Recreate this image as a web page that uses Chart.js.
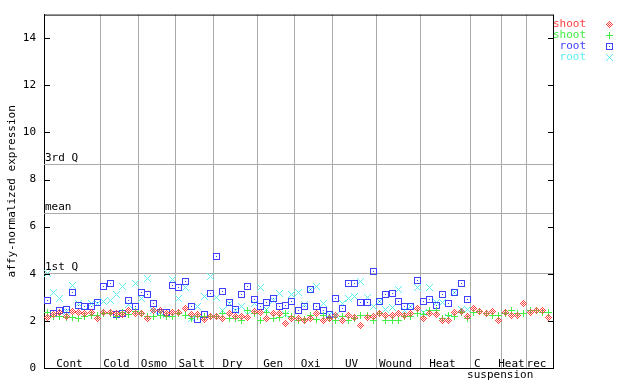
<!DOCTYPE html>
<html>
<head>
<meta charset="utf-8">
<script src="https://cdn.jsdelivr.net/npm/chart.js@4"></script>
<style>
html, body { margin: 0; padding: 0; background: #fff; }
#wrap { width: 640px; height: 384px; }
</style>
</head>
<body>
<div id="wrap"><canvas id="chart-1"></canvas></div>
<script>
// groups along the x axis
var groupLabels = ["Cont", "Cold", "Osmo", "Salt", "Dry", "Gen", "Oxi", "UV", "Wound", "Heat", "C\nsuspension", "Heat", "rec"];
var groupSizes = [9, 6, 6, 6, 7, 6, 6, 7, 7, 8, 5, 4, 4];

// series values, one per sample
var shootRed = [2.15,2.25,2.35,2.2,2.39,2.35,2.3,2.35,2.12, 2.35,2.37,2.3,2.25,2.42,2.3, 2.3,2.08,2.46,2.42,2.3,2.35,
    2.35,2.53,2.25,2.25,2.04,2.2, 2.2,2.08,2.3,2.2,2.2,2.15,2.4, 2.35,2.1,2.3,2.3,1.87,2.1,
    2.1,2.0,2.08,2.3,2.0,2.1, 2.24,2.0,2.24,2.15,1.82,2.15,2.2, 2.3,2.24,2.24,2.3,2.24,2.3,2.53,
    2.08,2.3,2.26,2.03,2.0,2.35,2.4,2.2, 2.53,2.4,2.3,2.4,2.03, 2.35,2.24,2.24,2.72, 2.35,2.46,2.46,2.13];
var shootGreen = [2.35,2.2,2.2,2.13,2.13,2.1,2.2,2.24,2.24, 2.3,2.3,2.2,2.35,2.27,2.4, 2.3,2.2,2.2,2.24,2.2,2.2,
    2.3,2.24,2.1,2.2,2.2,2.2, 2.2,2.3,2.1,2.1,2.01,2.42,2.3, 2.0,2.35,2.1,2.15,2.3,2.2,
    2.0,2.05,2.24,2.05,2.24,2.1, 2.0,2.2,2.03,2.1,2.24,2.24,2.03, 2.3,2.03,2.03,2.0,2.2,2.2,2.3,
    2.27,2.46,2.42,2.1,2.24,2.2,2.35,2.1, 2.35,2.4,2.3,2.24,2.24, 2.3,2.42,2.3,2.3, 2.42,2.42,2.35,2.35];
var rootBlue = [2.85,2.3,2.43,2.5,3.21,2.67,2.59,2.59,2.76, 3.48,3.59,2.25,2.3,2.88,2.59, 3.21,3.14,2.72,2.35,2.35,3.52,
    3.42,3.68,2.59,2.04,2.29,3.17, 4.75,3.25,2.79,2.49,3.14,3.48,2.9, 2.63,2.77,2.93,2.59,2.67,2.84,
    2.46,2.59,3.34,2.59,2.46,2.29, 2.96,2.53,3.59,3.59,2.79,2.79,4.09, 2.84,3.14,3.17,2.84,2.63,2.59,3.73,
    2.84,2.9,2.67,3.12,2.72,3.2,3.59,2.9];
var rootCyan = [4.0,3.2,2.93,2.4,3.52,2.75,2.45,2.75,2.72, 2.84,2.88,3.1,3.48,2.7,3.59, 2.95,3.8,2.45,2.35,2.25,3.77,
    2.96,3.42,2.08,2.63,3.03,3.87, 3.0,2.45,2.75,2.45,2.6,2.25,2.75, 3.42,2.5,2.88,3.17,2.25,3.14,
    3.2,2.7,3.34,3.48,2.75,2.25, 2.24,2.75,2.96,3.05,3.66,3.0,2.63, 2.84,2.5,2.55,3.34,2.45,2.59,3.4,
    2.35,3.42,2.8,2.8,2.15,3.2,2.5,2.5];

var yTicks = [0, 2, 4, 6, 8, 10, 12, 14];
var refValues = [8.67, 6.6, 4.05];
var refLabels = ["3rd Q", "mean", "1st Q"];
var seriesNames = ["shoot", "shoot", "root", "root"];
var seriesColors = ["#ff4040", "#44ee44", "#4040ff", "#5ef0f0"];
var seriesMarkers = ["diamond", "plus", "square", "x"];

var FONT = "DejaVu Sans Mono";

// small pixel markers
function marker(kind, color) {
    var c = document.createElement("canvas");
    c.width = 7; c.height = 7;
    var g = c.getContext("2d");
    g.fillStyle = color;
    for (var i = 0; i < 7; i++) {
        for (var j = 0; j < 7; j++) {
            var dx = i - 3, dy = j - 3, on = false;
            if (kind === "diamond") on = Math.abs(dx) + Math.abs(dy) <= 3 && (dx + dy) % 2 !== 0;
            if (kind === "plus") on = dx === 0 || dy === 0;
            if (kind === "square") on = Math.abs(dx) === 3 || Math.abs(dy) === 3 || (dx === 0 && dy === 0);
            if (kind === "x") on = Math.abs(dx) === Math.abs(dy);
            if (on) g.fillRect(i, j, 1, 1);
        }
    }
    return c;
}
var markerImgs = seriesMarkers.map(function (k, i) { return marker(k, seriesColors[i]); });

// group boundaries and centers in sample units
var boundaries = [], centers = [], acc = 0;
groupSizes.forEach(function (n) {
    centers.push(acc + (n - 1) / 2);
    acc += n;
    boundaries.push(acc - 0.5);
});
boundaries.pop();

function points(arr) {
    return arr.map(function (v, i) { return { x: i, y: v }; });
}

var allSeries = [shootRed, shootGreen, rootBlue, rootCyan];
var datasets = allSeries.map(function (arr, i) {
    return {
        label: seriesNames[i],
        data: points(arr),
        showLine: false,
        pointStyle: markerImgs[i],
        pointRadius: 3,
        borderColor: seriesColors[i],
        backgroundColor: seriesColors[i]
    };
});

var extras = {
    id: "extras",
    beforeDatasetsDraw: function (chart) {
        var ctx = chart.ctx, a = chart.chartArea;
        var xs = chart.scales.x, ys = chart.scales.y;
        ctx.save();
        // reference lines
        ctx.strokeStyle = "#aaaaaa";
        ctx.lineWidth = 1;
        ctx.font = "11px " + FONT;
        ctx.fillStyle = "#000";
        ctx.textBaseline = "bottom";
        ctx.textAlign = "left";
        refValues.forEach(function (v, i) {
            var y = Math.round(ys.getPixelForValue(v)) + 0.5;
            ctx.beginPath();
            ctx.moveTo(a.left, y);
            ctx.lineTo(a.right, y);
            ctx.stroke();
            ctx.fillText(refLabels[i], a.left + 1, y - 1);
        });
        // group labels
        ctx.textAlign = "center";
        ctx.textBaseline = "middle";
        groupLabels.forEach(function (lab, i) {
            var x = xs.getPixelForValue(centers[i]) - 3;
            var lines = lab.split("\n");
            if (lines.length > 1) {
                ctx.fillText(lines[0], x - 6, a.bottom - 4);
                ctx.fillText(lines[1], x + 17, a.bottom + 7);
            } else {
                ctx.fillText(lab, x, a.bottom - 4);
            }
        });
        ctx.restore();
        // crisp pixel markers
        ctx.imageSmoothingEnabled = false;
    },
    afterDraw: function (chart) {
        var ctx = chart.ctx, a = chart.chartArea, ys = chart.scales.y;
        ctx.save();
        ctx.strokeStyle = "#000";
        ctx.lineWidth = 1;
        ctx.beginPath();
        ctx.moveTo(a.left, a.top + 0.5);
        ctx.lineTo(a.right + 0.5, a.top + 0.5);
        ctx.moveTo(a.right + 0.5, a.top);
        ctx.lineTo(a.right + 0.5, a.bottom);
        yTicks.forEach(function (v) {
            var y = Math.round(ys.getPixelForValue(v)) + 0.5;
            ctx.moveTo(a.left, y);
            ctx.lineTo(a.left + 6, y);
            ctx.moveTo(a.right - 5, y);
            ctx.lineTo(a.right + 0.5, y);
        });
        ctx.stroke();
        // legend
        ctx.font = "11px " + FONT;
        ctx.textAlign = "right";
        ctx.textBaseline = "middle";
        ctx.imageSmoothingEnabled = false;
        seriesNames.forEach(function (name, i) {
            var y = 24 + i * 11;
            ctx.fillStyle = seriesColors[i];
            ctx.fillText(name, 586, y);
            ctx.drawImage(markerImgs[i], 606, y - 3);
        });
        ctx.restore();
    }
};

var ctx_1 = document.getElementById("chart-1");
var myChart = new Chart(ctx_1, {
    type: "line",
    data: { datasets: datasets },
    options: {
        responsive: true,
        maintainAspectRatio: false,
        animation: false,
        layout: {
            padding: { left: 0, right: 87, top: 13, bottom: 16 }
        },
        plugins: {
            legend: { display: false },
            tooltip: { enabled: false }
        },
        scales: {
            x: {
                type: "linear",
                min: -0.53,
                max: 80.65,
                afterBuildTicks: function (s) {
                    s.ticks = boundaries.map(function (v) { return { value: v }; });
                },
                afterFit: function (s) { s.height = 0; },
                ticks: { display: false },
                grid: { color: "#aaaaaa", drawTicks: false },
                border: { display: true, color: "#000" }
            },
            y: {
                min: 0,
                max: 15,
                afterBuildTicks: function (s) {
                    s.ticks = yTicks.map(function (v) { return { value: v }; });
                },
                afterFit: function (s) { s.width = 44; },
                ticks: {
                    color: "#000",
                    padding: 8,
                    font: { family: FONT, size: 11 }
                },
                grid: { display: false, drawTicks: false },
                border: { display: true, color: "#000" },
                title: {
                    display: true,
                    text: "affy-normalized expression",
                    color: "#000",
                    padding: { top: 6, bottom: 0 },
                    font: { family: FONT, size: 11 }
                }
            }
        }
    },
    plugins: [extras]
});
</script>
</body>
</html>
